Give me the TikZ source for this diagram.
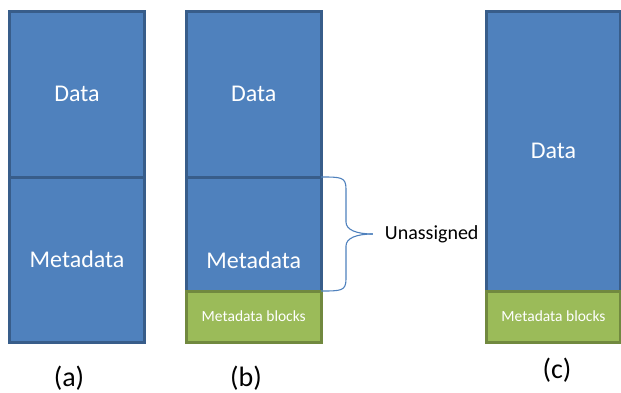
\documentclass[tikz,border=0pt]{standalone}
\usepackage{fontspec}
\setmainfont{Carlito}
\usepackage{tikz}
\usetikzlibrary{positioning}

\definecolor{blkblue}{HTML}{4F81BD}
\definecolor{blkedge}{HTML}{385D8A}
\definecolor{blkgreen}{HTML}{9BBB59}
\definecolor{grnedge}{HTML}{71893F}

\begin{document}
\begin{tikzpicture}[x=1pt, y=-1pt]
  \tikzstyle{blk}=[draw=blkedge, fill=blkblue, line width=3pt, text=white, inner sep=0pt, outer sep=0pt, minimum width=134.5pt, font=\fontsize{24}{28}\selectfont]
  \tikzstyle{mblk}=[blk, draw=grnedge, fill=blkgreen, minimum height=51pt, font=\fontsize{15.5}{18}\selectfont]
  \tikzstyle{caplbl}=[inner sep=0pt, font=\fontsize{28}{30}\selectfont]
  \tikzstyle{brace}=[draw=blkblue, line width=1.1pt]
  \useasboundingbox (0,0) rectangle (621,393);

  % (a) data and metadata
  \node[blk, minimum height=165.5pt] (aData) at (77,94.25) {Data};
  \node[blk, minimum height=165pt, below=0pt of aData] (aMeta) {Metadata};

  % (b) metadata with reserved blocks
  \node[blk, minimum height=165.5pt] (bData) at (253.75,94.25) {Data};
  \node[blk, minimum height=114pt, below=0pt of bData,
        label={[blk, draw=none, fill=none, minimum width=0pt, yshift=-26pt]center:Metadata}] (bMeta) {};
  \node[mblk, below=0pt of bMeta] (bBlocks) {Metadata blocks};

  % (c) data only
  \node[blk, minimum height=279.5pt] (cData) at (553.5,151.25) {Data};
  \node[mblk, below=0pt of cData] (cBlocks) {Metadata blocks};

  % brace
  \coordinate (tip) at ([xshift=51.75pt]bMeta.east);
  \draw[brace] (bMeta.north east) .. controls +(20,0) and +(0,-12) .. ++(25,12) -- ++(0,33) .. controls +(0,8) and +(-16,0) .. (tip);
  \draw[brace] (bMeta.south east) .. controls +(20,0) and +(0,12) .. ++(25,-12) -- ++(0,-33) .. controls +(0,-8) and +(-16,0) .. (tip);
  \node[inner sep=0pt, anchor=west, font=\fontsize{20}{24}\selectfont, right=12pt of tip] (unas) {Unassigned};

  \node[caplbl] (capA) at (69,378) {(a)};
  \node[caplbl] (capB) at (246,378) {(b)};
  \node[caplbl] (capC) at (557,370) {(c)};
\end{tikzpicture}
\end{document}
